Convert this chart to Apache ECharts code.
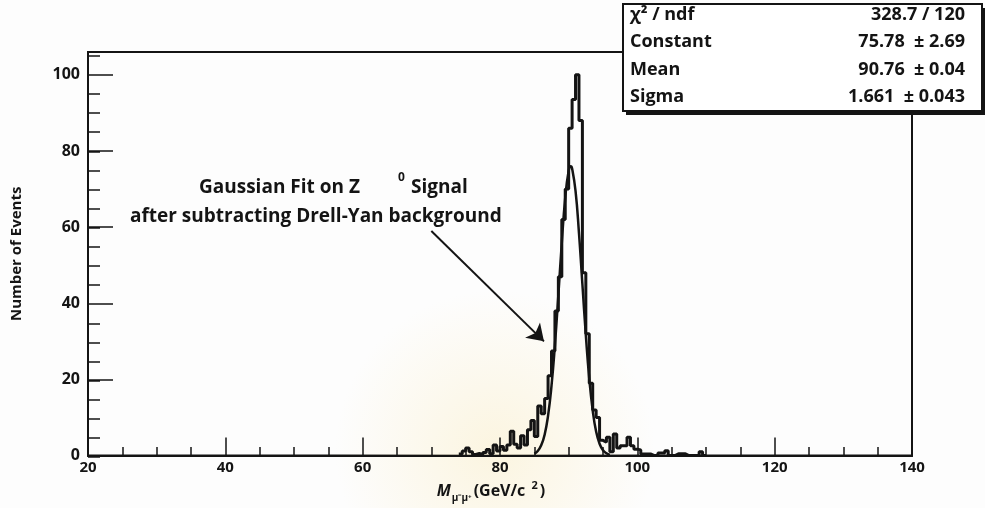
<!DOCTYPE html>
<html lang="en">
<head>
<meta charset="UTF-8">
<title>Z0 peak</title>
<style>
    html, body { margin: 0; padding: 0; background: #fdfdfd; }
    .chart { width: 985px; height: 508px; }
</style>
</head>
<body>
<div class="chart" id="showData"></div>
<script src="https://cdn.jsdelivr.net/npm/echarts@6.0.0/dist/echarts.min.js"></script>
<script>
    // histogram: 0.5 GeV bins starting at 74 GeV
    var binStart = 74;
    var binWidth = 0.5;
    var counts = [
        0.4, 1.2, 2.0, 1.0, 0.3, 0.6, 0.2, 0.8, 1.6, 0.5,
        2.8, 1.2, 2.4, 1.4, 2.8, 6.4, 3.0, 2.0, 5.2, 2.8,
        6.8, 9.2, 5.0, 13.0, 11.0, 15.0, 21.0, 27.5, 38, 47,
        62, 70, 86, 93.5, 100, 88, 48, 32, 19, 12,
        10, 4.0, 3.5, 4.8, 1.0, 5.7, 2.0, 2.6, 2.6, 4.8,
        2.6, 1.7, 1.5, 0.4, 0.4, 0.4, 0, 0, 0.7, 0.7,
        1.3, 0, 0, 0.5, 0.5, 0.5, 0, 0, 0, 0,
        1.0, 0
    ];

    // gaussian fit curve
    var fitMass = [85, 85.5, 86, 86.5, 87, 87.5, 88, 88.5, 89, 89.5, 90, 90.3,
                   90.5, 91, 91.5, 92, 92.5, 93, 93.5, 94, 94.5, 95, 95.5, 96];
    var fitCounts = [0.5, 1.2, 2.7, 5.5, 10.5, 18.3, 29.1, 42.2, 55.9, 67.7, 74.8, 76,
                     75.4, 69.5, 58.5, 45.0, 31.6, 20.2, 11.9, 6.3, 3.1, 1.4, 0.6, 0.2];

    var statNames = ['χ² / ndf', 'Constant', 'Mean', 'Sigma'];
    var statValues = ['328.7 / 120', '75.78  ± 2.69', '90.76  ± 0.04', '1.661  ± 0.043'];

    var font = 'Open Sans';
    var ink = '#141414';

    var histData = [];
    for (var i = 0; i < counts.length; i++) {
        histData.push([binStart + i * binWidth, counts[i]]);
    }
    histData.push([binStart + counts.length * binWidth, 0]);

    var fitData = [];
    for (var j = 0; j < fitMass.length; j++) {
        fitData.push([fitMass[j], fitCounts[j]]);
    }

    var gridBox = { left: 88, right: 73, top: 52, bottom: 51 };

    var statGraphics = [
        { type: 'rect', z: 100, shape: { x: 626, y: 8, width: 362, height: 107 }, style: { fill: ink } },
        { type: 'rect', z: 101, shape: { x: 623, y: 4, width: 359, height: 107 },
          style: { fill: '#fff', stroke: ink, lineWidth: 2 } }
    ];
    for (var k = 0; k < statNames.length; k++) {
        statGraphics.push({
            type: 'text', z: 102, left: 630, top: 6 + k * 27.3,
            style: { text: statNames[k], font: 'bold 18px "' + font + '"', fill: ink }
        });
        statGraphics.push({
            type: 'text', z: 102, right: 20, top: 6 + k * 27.3,
            style: { text: statValues[k], font: 'bold 18px "' + font + '"', fill: ink }
        });
    }

    var noteGraphics = [
        { type: 'circle', z: 0, shape: { cx: 495, cy: 450, r: 160 },
          style: { fill: { type: 'radial', x: 0.5, y: 0.5, r: 0.5,
              colorStops: [{ offset: 0, color: 'rgba(250,238,200,0.55)' },
                           { offset: 1, color: 'rgba(250,238,200,0)' }] } } },
        { type: 'text', left: 199, top: 178,
          style: { text: 'Gaussian Fit on Z', font: 'bold 19px "' + font + '"', fill: ink } },
        { type: 'text', left: 398, top: 172,
          style: { text: '0', font: 'bold 12px "' + font + '"', fill: ink } },
        { type: 'text', left: 411, top: 178,
          style: { text: 'Signal', font: 'bold 19px "' + font + '"', fill: ink } },
        { type: 'text', left: 130, top: 207,
          style: { text: 'after subtracting Drell-Yan background', font: 'bold 19px "' + font + '"', fill: ink } }
    ];

    var option = {
        backgroundColor: '#fdfdfd',
        animation: false,
        grid: [
            { left: gridBox.left, right: gridBox.right, top: gridBox.top, bottom: gridBox.bottom,
              show: true, borderColor: ink, borderWidth: 2, backgroundColor: 'transparent' },
            { left: gridBox.left, right: gridBox.right, top: gridBox.top, bottom: gridBox.bottom }
        ],
        xAxis: [
            {
                type: 'value', gridIndex: 0, min: 20, max: 140, interval: 20,
                name: '{m|M}{sub|μ⁻μ⁺}{u|(GeV/c }{sup|2}{u|)}',
                nameLocation: 'middle', nameGap: 23,
                nameTextStyle: {
                    padding: [0, 18, 0, 0],
                    rich: {
                        m: { fontFamily: font, fontWeight: 'bold', fontSize: 16, fontStyle: 'italic', color: ink },
                        sub: { fontFamily: font, fontWeight: 'bold', fontSize: 10, color: ink, padding: [14, 2, 0, 1] },
                        u: { fontFamily: font, fontWeight: 'bold', fontSize: 16, color: ink },
                        sup: { fontFamily: font, fontWeight: 'bold', fontSize: 11, color: ink, padding: [0, 2, 10, 2] }
                    }
                },
                axisLine: { show: true, lineStyle: { color: ink, width: 2 } },
                axisTick: { show: true, inside: true, length: 18, lineStyle: { color: ink, width: 1.5 } },
                axisLabel: { margin: 5, fontFamily: font, fontWeight: 'bold', fontSize: 15, color: ink },
                splitLine: { show: false }
            },
            {
                type: 'value', gridIndex: 1, min: 20, max: 140, interval: 5,
                axisLine: { show: false },
                axisTick: { show: true, inside: true, length: 10, lineStyle: { color: ink, width: 1.5 } },
                axisLabel: { show: false },
                splitLine: { show: false }
            }
        ],
        yAxis: [
            {
                type: 'value', gridIndex: 0, min: 0, max: 106, interval: 20,
                name: 'Number of Events', nameLocation: 'middle', nameGap: 64,
                nameTextStyle: { fontFamily: font, fontWeight: 'bold', fontSize: 15, color: ink },
                axisLine: { show: true, lineStyle: { color: ink, width: 2 } },
                axisTick: { show: true, inside: true, length: 25, lineStyle: { color: ink, width: 1.5 } },
                axisLabel: { margin: 8, showMaxLabel: false, fontFamily: font, fontWeight: 'bold', fontSize: 16, color: ink },
                splitLine: { show: false }
            },
            {
                type: 'value', gridIndex: 1, min: 0, max: 106, interval: 5,
                axisLine: { show: false },
                axisTick: { show: true, inside: true, length: 12, lineStyle: { color: ink, width: 1.5 } },
                axisLabel: { show: false },
                splitLine: { show: false }
            }
        ],
        series: [
            {
                type: 'line', xAxisIndex: 0, yAxisIndex: 0,
                data: histData, step: 'end', symbol: 'none',
                lineStyle: { color: ink, width: 3 },
                markLine: {
                    silent: true, symbol: ['none', 'arrow'], symbolSize: 16,
                    lineStyle: { color: ink, width: 2, type: 'solid' },
                    label: { show: false },
                    data: [[{ coord: [70, 59] }, { coord: [86.4, 30] }]]
                }
            },
            {
                type: 'line', xAxisIndex: 0, yAxisIndex: 0,
                data: fitData, smooth: true, symbol: 'none',
                lineStyle: { color: ink, width: 2.5 }
            }
        ],
        graphic: noteGraphics.concat(statGraphics)
    };

    var mychart = echarts.init(document.getElementById('showData'));
    mychart.setOption(option);
</script>
</body>
</html>
